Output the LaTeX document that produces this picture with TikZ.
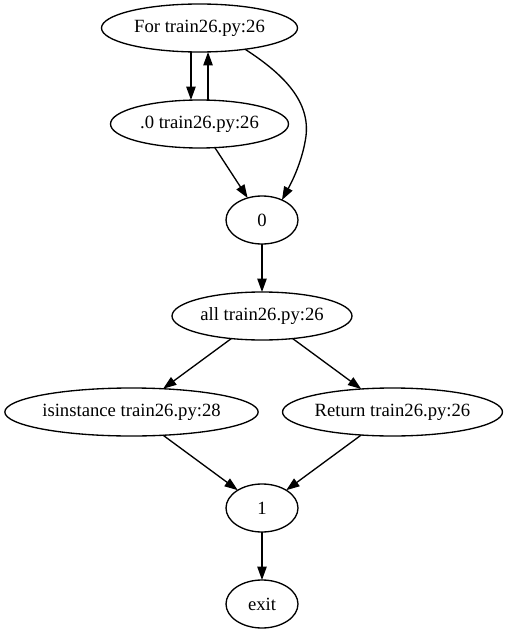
\documentclass[tikz,border=0pt]{standalone}
\usepackage{fontspec}
\setmainfont{Liberation Serif}
\usetikzlibrary{arrows.meta,shapes.geometric}
\begin{document}
\begin{tikzpicture}[x=0.75pt,y=-0.75pt,
  every node/.style={font=\fontsize{14pt}{16pt}\selectfont},
  blk/.style={draw,ellipse,line width=1pt,inner sep=0pt,outer sep=0pt,minimum height=36pt},
  edge/.style={line width=1pt,-{Triangle[length=10pt,width=7pt]}}]
\useasboundingbox (0,0) rectangle (513,635);
% nodes
\node[blk,minimum width=147pt]   (for)  at (199.5,28)  {For train26.py:26};
\node[blk,minimum width=133.5pt] (dot0) at (199.5,124) {.0 train26.py:26};
\node[blk,minimum width=54pt]    (zero) at (262,220)   {0};
\node[blk,minimum width=135pt]   (all)  at (262,316)   {all train26.py:26};
\node[blk,minimum width=190pt]   (isi)  at (131.5,412) {isinstance train26.py:28};
\node[blk,minimum width=164pt]   (ret)  at (392.5,412) {Return train26.py:26};
\node[blk,minimum width=54pt]    (one)  at (262,508)   {1};
\node[blk,minimum width=54pt]    (exit) at (262,604)   {exit};
% loop between For and .0
\draw[edge] ([xshift=-6.4pt]for.south) -- ([xshift=-6.4pt]dot0.north);
\draw[edge] ([xshift=6.4pt]dot0.north) -- ([xshift=6.4pt]for.south);
% For bypasses .0 on the right
\draw[edge] (for.-25) .. controls (285,75) and (310,102) .. (306,136)
  .. controls (303,158) and (294,178) .. (zero.45);
% remaining edges
\draw[edge] (dot0) -- (zero);
\draw[edge] (zero) -- (all);
\draw[edge] (all) -- (isi);
\draw[edge] (all) -- (ret);
\draw[edge] (isi) -- (one);
\draw[edge] (ret) -- (one);
\draw[edge] (one) -- (exit);
\end{tikzpicture}
\end{document}
